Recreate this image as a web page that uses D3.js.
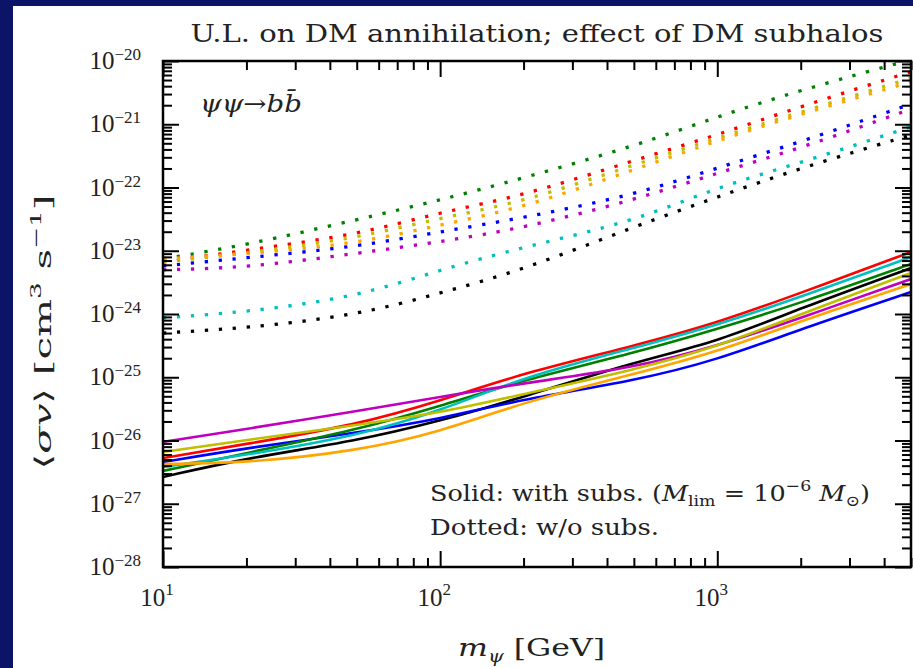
<!DOCTYPE html>
<html><head><meta charset="utf-8">
<script src="https://cdn.jsdelivr.net/npm/d3@7"></script>
<style>html,body{margin:0;padding:0;background:#0b1466;} svg{display:block}</style>
</head><body>
<svg id="chart" width="913" height="668"></svg>
<script>
// ---------------- data ----------------
const masses = [10, 20, 50, 100, 200, 500, 1000, 2000, 5000];   // m_psi [GeV]
const xMajorTicks = [10, 100, 1000];
const xTickExponents = ["1", "2", "3"];
const yMajorTicks = [1e-20, 1e-21, 1e-22, 1e-23, 1e-24, 1e-25, 1e-26, 1e-27, 1e-28];
const yTickExponents = ["−20", "−21", "−22", "−23", "−24", "−25", "−26", "−27", "−28"];

// Solid: with subhalos
const solidBlack   = [2.65e-27, 5.28e-27, 9.82e-27, 2.03e-26, 4.88e-26, 1.74e-25, 3.61e-25, 1.24e-24, 5.33e-24];
const solidBlue    = [4.57e-27, 7.60e-27, 1.32e-26, 2.19e-26, 4.53e-26, 8.73e-26, 1.87e-25, 5.79e-25, 2.23e-24];
const solidRed     = [5.28e-27, 8.81e-27, 1.76e-26, 4.22e-26, 1.17e-25, 3.12e-25, 7.21e-25, 2.15e-24, 9.55e-24];
const solidGreen   = [3.30e-27, 6.34e-27, 1.47e-26, 3.51e-26, 9.05e-26, 2.42e-25, 5.79e-25, 1.49e-24, 6.18e-24];
const solidCyan    = [3.81e-27, 5.90e-27, 1.18e-26, 2.92e-26, 1.01e-25, 2.90e-25, 6.70e-25, 1.86e-24, 7.96e-24];
const solidMagenta = [9.50e-27, 1.52e-26, 2.92e-26, 4.88e-26, 8.10e-26, 1.40e-25, 3.12e-25, 8.65e-25, 3.57e-24];
const solidYellow  = [6.58e-27, 1.02e-26, 1.76e-26, 2.72e-26, 5.43e-26, 1.30e-25, 3.01e-25, 1.00e-24, 4.45e-24];
const solidOrange  = [4.25e-27, 4.41e-27, 6.82e-27, 1.36e-26, 4.06e-26, 1.12e-25, 2.51e-25, 7.75e-25, 2.98e-24];

// Dotted: without subhalos
const dottedBlack   = [5.0e-25, 6.0e-25, 9.5e-25, 2.14e-24, 5.0e-24, 2.4e-23, 7.08e-23, 2.04e-22, 6.76e-22];
const dottedBlue    = [5.75e-24, 7.76e-24, 1.15e-23, 2.0e-23, 3.31e-23, 7.59e-23, 2.04e-22, 5.25e-22, 2.09e-21];
const dottedRed     = [6.6e-24, 1.02e-23, 1.78e-23, 4.07e-23, 7.4e-23, 2.69e-22, 6.76e-22, 1.91e-21, 6.76e-21];
const dottedGreen   = [7.4e-24, 1.23e-23, 3.09e-23, 6.3e-23, 1.41e-22, 4.47e-22, 1.32e-21, 3.47e-21, 1.05e-20];
const dottedCyan    = [8.7e-25, 1.07e-24, 1.86e-24, 5.0e-24, 1.15e-23, 2.88e-23, 1.02e-22, 2.45e-22, 9.1e-22];
const dottedMagenta = [5.0e-24, 5.37e-24, 9.1e-24, 1.38e-23, 2.29e-23, 6.3e-23, 1.70e-22, 4.17e-22, 1.74e-21];
const dottedYellow  = [6.6e-24, 9.1e-24, 1.58e-23, 3.31e-23, 5.89e-23, 2.29e-22, 6.03e-22, 1.55e-21, 5.37e-21];
const dottedOrange  = [7.4e-24, 8.9e-24, 1.29e-23, 2.57e-23, 4.79e-23, 1.91e-22, 5.5e-22, 1.45e-21, 4.68e-21];

const seriesColors = ["#000000", "#0000ff", "#ff0000", "#008000", "#00bfbf", "#bf00bf", "#bfbf00", "#ffa500"];
const solidSeries  = [solidBlack, solidBlue, solidRed, solidGreen, solidCyan, solidMagenta, solidYellow, solidOrange];
const dottedSeries = [dottedBlack, dottedBlue, dottedRed, dottedGreen, dottedCyan, dottedMagenta, dottedYellow, dottedOrange];

// ---------------- layout ----------------
const W = 913, H = 668;
const P = {l: 163, r: 911, t: 61, b: 567};
const svg = d3.select("#chart");
const serif = "'DejaVu Serif', serif";
const numFont = "'Liberation Serif', 'DejaVu Serif', serif";

svg.append("rect").attr("x", 0).attr("y", 0).attr("width", W).attr("height", H).attr("fill", "#0b1466");
svg.append("rect").attr("x", 13).attr("y", 6).attr("width", W - 13).attr("height", H - 6).attr("fill", "#ffffff");

const x = d3.scaleLog().domain([10, 5000]).range([P.l, P.r]);
const y = d3.scaleLog().domain([1e-28, 1e-20]).range([P.b, P.t]);

function minorValues(scale) {
  const [a, b] = scale.domain();
  const out = [];
  for (let e = Math.floor(Math.log10(a)); e <= Math.ceil(Math.log10(b)); e++) {
    for (let k = 2; k < 10; k++) {
      const v = k * Math.pow(10, e);
      if (v >= a * 0.9999 && v <= b * 1.0001) out.push(v);
    }
  }
  return out;
}

svg.append("defs").append("clipPath").attr("id", "plotclip")
  .append("rect").attr("x", P.l).attr("y", P.t).attr("width", P.r - P.l).attr("height", P.b - P.t);

// ---------------- lines ----------------
const gLines = svg.append("g").attr("clip-path", "url(#plotclip)");
const line = d3.line().x(d => x(d[0])).y(d => y(d[1])).curve(d3.curveBasis);

dottedSeries.forEach((vals, i) => {
  gLines.append("path")
    .attr("d", line(masses.map((m, j) => [m, vals[j]])))
    .attr("fill", "none").attr("stroke", seriesColors[i])
    .attr("stroke-width", 3.3).attr("stroke-dasharray", "3.3,10.7");
});
solidSeries.forEach((vals, i) => {
  gLines.append("path")
    .attr("d", line(masses.map((m, j) => [m, vals[j]])))
    .attr("fill", "none").attr("stroke", seriesColors[i])
    .attr("stroke-width", 2.6);
});

// ---------------- axes (ticks inward on all sides) ----------------
function drawAxis(axis, tx, ty) {
  const g = svg.append("g").attr("transform", `translate(${tx},${ty})`).call(axis);
  g.select(".domain").remove();
  g.selectAll(".tick line").attr("stroke", "#000").attr("stroke-width", 2);
  g.selectAll(".tick text").remove();
  return g;
}
const MAJ = 16, MIN = 9;
drawAxis(d3.axisBottom(x).tickValues(xMajorTicks).tickSize(-MAJ).tickFormat(""), 0, P.b);
drawAxis(d3.axisBottom(x).tickValues(minorValues(x)).tickSize(-MIN).tickFormat(""), 0, P.b);
drawAxis(d3.axisTop(x).tickValues(xMajorTicks).tickSize(-MAJ).tickFormat(""), 0, P.t);
drawAxis(d3.axisTop(x).tickValues(minorValues(x)).tickSize(-MIN).tickFormat(""), 0, P.t);
drawAxis(d3.axisLeft(y).tickValues(yMajorTicks).tickSize(-MAJ).tickFormat(""), P.l, 0);
drawAxis(d3.axisLeft(y).tickValues(minorValues(y)).tickSize(-MIN).tickFormat(""), P.l, 0);
drawAxis(d3.axisRight(y).tickValues(yMajorTicks).tickSize(-MAJ).tickFormat(""), P.r, 0);
drawAxis(d3.axisRight(y).tickValues(minorValues(y)).tickSize(-MIN).tickFormat(""), P.r, 0);

svg.append("rect").attr("x", P.l).attr("y", P.t).attr("width", P.r - P.l).attr("height", P.b - P.t)
  .attr("fill", "none").attr("stroke", "#000").attr("stroke-width", 2.5);

// ---------------- rich text helper ----------------
function rich(sel, parts, baseSize) {
  let prev = 0;
  parts.forEach(p => {
    const sh = p.sh || 0;
    const ts = sel.append("tspan").text(p.t).attr("font-size", p.s || baseSize);
    if (p.it) ts.attr("font-style", "italic");
    if (sh !== prev) ts.attr("dy", prev - sh);
    prev = sh;
  });
  return sel;
}

// tick labels
yMajorTicks.forEach((v, i) => {
  const t = svg.append("text").attr("x", 141).attr("y", y(v) + 8)
    .attr("text-anchor", "end").attr("font-family", numFont).attr("fill", "#222");
  rich(t, [{t: "10"}, {t: yTickExponents[i], s: 17, sh: 9}], 25);
});
xMajorTicks.forEach((v, i) => {
  const t = svg.append("text").attr("x", x(v) - 6).attr("y", 606)
    .attr("text-anchor", "middle").attr("font-family", numFont).attr("fill", "#222");
  rich(t, [{t: "10"}, {t: xTickExponents[i], s: 17, sh: 11}], 25);
});

// title
svg.append("text").attr("x", (P.l + P.r) / 2).attr("y", 42).attr("text-anchor", "middle")
  .attr("font-family", serif).attr("font-size", 25).attr("fill", "#222")
  .attr("textLength", 693).attr("lengthAdjust", "spacingAndGlyphs")
  .text("U.L. on DM annihilation; effect of DM subhalos");

// channel annotation
rich(svg.append("text").attr("x", 200).attr("y", 112).attr("font-family", serif).attr("fill", "#222")
  .attr("textLength", 102).attr("lengthAdjust", "spacingAndGlyphs"),
  [{t: "ψψ", it: true}, {t: "→"}, {t: "b", it: true}, {t: "b\u0304", it: true}], 24);

// legend notes
rich(svg.append("text").attr("x", 430).attr("y", 501).attr("font-family", serif).attr("fill", "#222")
  .attr("textLength", 440).attr("lengthAdjust", "spacingAndGlyphs"),
  [{t: "Solid: with subs. ("}, {t: "M", it: true}, {t: "lim", s: 15, sh: -5},
   {t: " = 10"}, {t: "−6", s: 15, sh: 10}, {t: " "}, {t: "M", it: true}, {t: "⊙", s: 15, sh: -5}, {t: ")"}], 22);
rich(svg.append("text").attr("x", 430).attr("y", 535).attr("font-family", serif).attr("fill", "#222")
  .attr("textLength", 229).attr("lengthAdjust", "spacingAndGlyphs"),
  [{t: "Dotted: w/o subs."}], 22);

// x label
rich(svg.append("text").attr("x", 458).attr("y", 656).attr("font-family", serif).attr("fill", "#222")
  .attr("textLength", 147).attr("lengthAdjust", "spacingAndGlyphs"),
  [{t: "m", it: true}, {t: "ψ", it: true, s: 16, sh: -6}, {t: "  [GeV]"}], 25);

// y label
rich(svg.append("text").attr("transform", "translate(51,332) rotate(-90)").attr("text-anchor", "middle")
  .attr("font-family", serif).attr("fill", "#222")
  .attr("textLength", 275).attr("lengthAdjust", "spacingAndGlyphs"),
  [{t: "⟨"}, {t: "σv", it: true}, {t: "⟩  [cm"}, {t: "3", s: 15, sh: 10}, {t: "  s"}, {t: "−1", s: 15, sh: 10}, {t: "]"}], 23);
</script>
</body></html>
